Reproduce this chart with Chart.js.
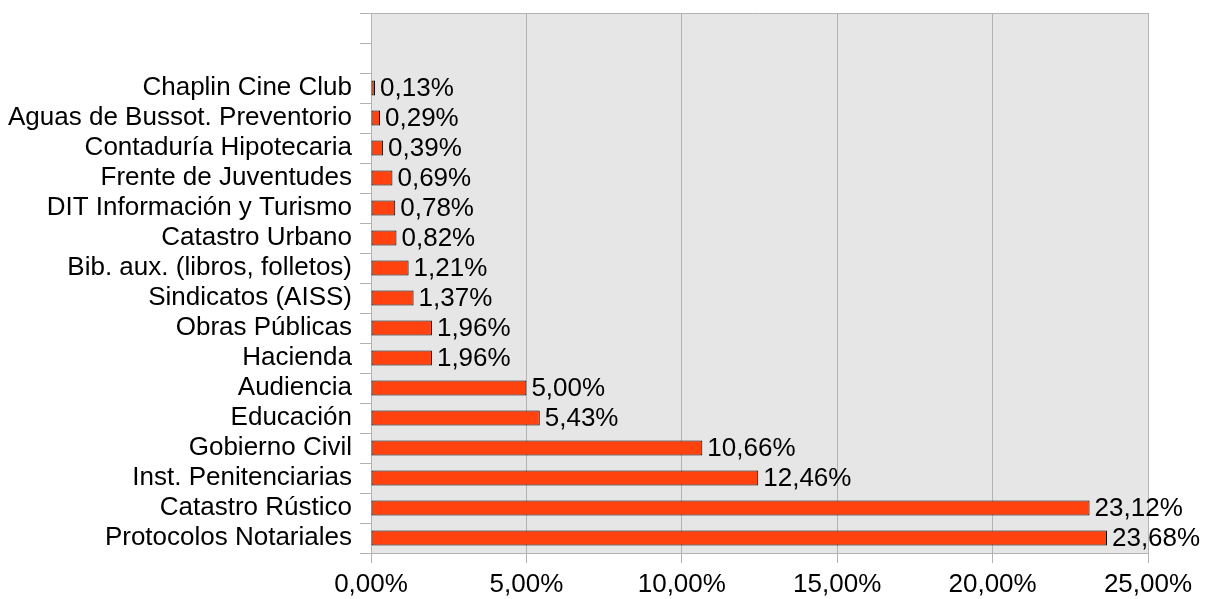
<!DOCTYPE html>
<html>
<head>
<meta charset="utf-8">
<script src="https://cdn.jsdelivr.net/npm/chart.js@4/dist/chart.umd.min.js"></script>
<style>
  html, body { margin: 0; padding: 0; background: #ffffff; }
  #wrap { width: 1213px; height: 599px; }
</style>
</head>
<body>
<div id="wrap"><canvas id="myChart"></canvas></div>
<script>
// two empty slots at the top, like the original
const categories = [
    '', '',
    'Chaplin Cine Club',
    'Aguas de Bussot. Preventorio',
    'Contaduría Hipotecaria',
    'Frente de Juventudes',
    'DIT Información y Turismo',
    'Catastro Urbano',
    'Bib. aux. (libros, folletos)',
    'Sindicatos (AISS)',
    'Obras Públicas',
    'Hacienda',
    'Audiencia',
    'Educación',
    'Gobierno Civil',
    'Inst. Penitenciarias',
    'Catastro Rústico',
    'Protocolos Notariales'
];
const percentages = [
    null, null,
    0.13, 0.29, 0.39, 0.69, 0.78, 0.82, 1.21, 1.37,
    1.96, 1.96, 5.00, 5.43, 10.66, 12.46, 23.12, 23.68
];
const xTicks = [0, 5, 10, 15, 20, 25];

const fmt = v => v.toFixed(2).replace('.', ',') + '%';
const font = { family: '"Liberation Sans", Arial, sans-serif', size: 26 };
const gridColor = '#b3b3b3';

const plotBackground = {
    id: 'plotBackground',
    beforeDraw(chart) {
        const a = chart.chartArea;
        const ctx = chart.ctx;
        ctx.save();
        ctx.fillStyle = '#e6e6e6';
        ctx.fillRect(a.left, a.top, a.right - a.left, a.bottom - a.top);
        ctx.restore();
    },
    afterDraw(chart) {
        // top border line
        const a = chart.chartArea;
        const ctx = chart.ctx;
        ctx.save();
        ctx.strokeStyle = gridColor;
        ctx.lineWidth = 1;
        ctx.beginPath();
        ctx.moveTo(a.left, a.top + 0.5);
        ctx.lineTo(a.right, a.top + 0.5);
        ctx.stroke();
        ctx.restore();
    }
};

const valueLabels = {
    id: 'valueLabels',
    afterDatasetsDraw(chart) {
        const ctx = chart.ctx;
        const meta = chart.getDatasetMeta(0);
        ctx.save();
        ctx.font = font.size + 'px ' + font.family;
        ctx.fillStyle = '#000000';
        ctx.textAlign = 'left';
        ctx.textBaseline = 'middle';
        meta.data.forEach((bar, i) => {
            const v = percentages[i];
            if (v === null) return;
            ctx.fillText(fmt(v), bar.x + 5, bar.y + 1);
        });
        ctx.restore();
    }
};

const ctx = document.getElementById('myChart').getContext('2d');
new Chart(ctx, {
    type: 'bar',
    data: {
        labels: categories,
        datasets: [{
            data: percentages,
            backgroundColor: '#ff420e',
            borderColor: '#000000',
            borderWidth: 1,
            borderSkipped: false,
            categoryPercentage: 1,
            barPercentage: 0.5
        }]
    },
    options: {
        indexAxis: 'y',
        responsive: true,
        maintainAspectRatio: false,
        animation: false,
        layout: { padding: { top: 13, right: 65, left: 0, bottom: 0 } },
        plugins: {
            legend: { display: false },
            tooltip: { enabled: false }
        },
        scales: {
            x: {
                min: 0,
                max: 25,
                afterBuildTicks: scale => { scale.ticks = xTicks.map(v => ({ value: v })); },
                afterFit: scale => {
                    scale.height = 46;
                    scale.paddingLeft = 0;
                    scale.paddingRight = 0;
                },
                ticks: {
                    color: '#000000',
                    font: font,
                    padding: 6,
                    maxRotation: 0,
                    callback: v => fmt(v)
                },
                grid: {
                    color: gridColor,
                    tickColor: gridColor,
                    tickLength: 10,
                    drawTicks: true
                },
                border: { display: true, color: gridColor }
            },
            y: {
                afterFit: scale => {
                    scale.width = 371;
                    scale.paddingTop = 0;
                    scale.paddingBottom = 0;
                },
                ticks: {
                    color: '#000000',
                    font: font,
                    padding: 8,
                    autoSkip: false
                },
                grid: {
                    offset: true,
                    drawOnChartArea: false,
                    color: gridColor,
                    tickColor: gridColor,
                    tickLength: 11
                },
                border: { display: true, color: gridColor }
            }
        }
    },
    plugins: [plotBackground, valueLabels]
});
</script>
</body>
</html>
